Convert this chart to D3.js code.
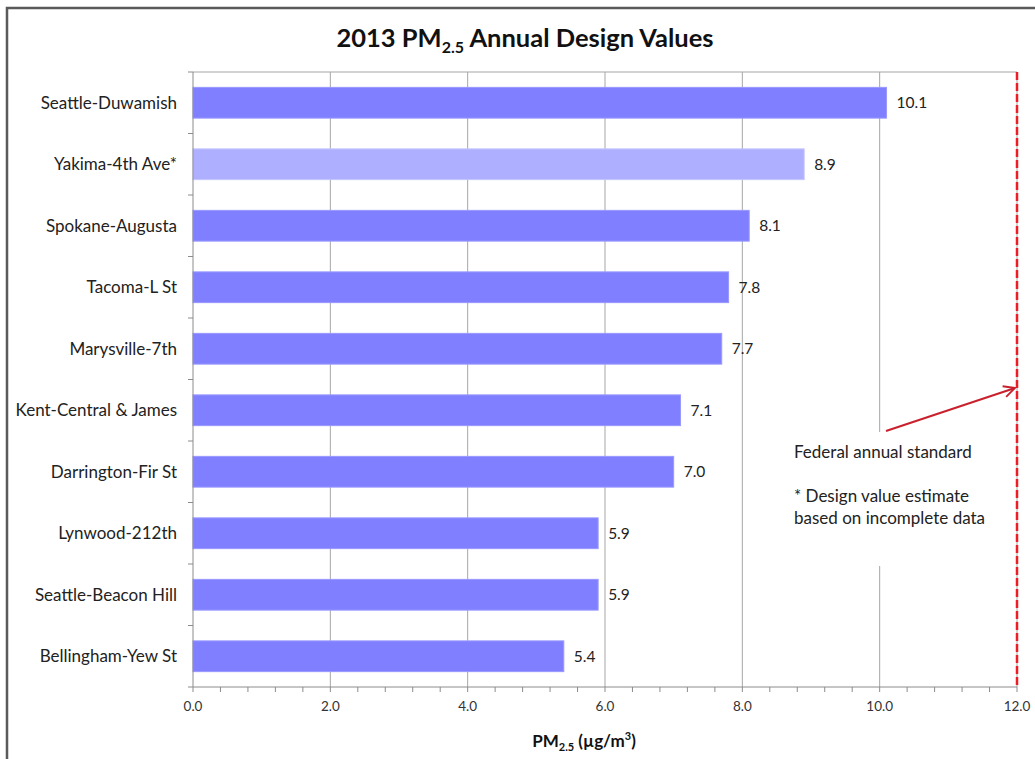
<!DOCTYPE html>
<html>
<head>
<meta charset="utf-8">
<script src="https://cdn.jsdelivr.net/npm/d3@7"></script>
<style>
  html, body { margin: 0; padding: 0; background: #fff; }
  svg { display: block; font-family: Lato, "Open Sans", sans-serif; }
</style>
</head>
<body>
<svg id="chart" width="1035" height="759"></svg>
<script>
// Monitoring sites, top to bottom
const sites = [
  "Seattle-Duwamish", "Yakima-4th Ave*", "Spokane-Augusta", "Tacoma-L St",
  "Marysville-7th", "Kent-Central & James", "Darrington-Fir St",
  "Lynwood-212th", "Seattle-Beacon Hill", "Bellingham-Yew St"
];
// Annual design values (µg/m³)
const designValues = [10.1, 8.9, 8.1, 7.8, 7.7, 7.1, 7.0, 5.9, 5.9, 5.4];
// Sites whose estimate rests on incomplete data
const incomplete = ["Yakima-4th Ave*"];
// Axis ticks
const majorTicks = [0, 2, 4, 6, 8, 10, 12];
const minorTicks = d3.range(0, 12.0001, 0.4);
// Federal annual standard
const standard = [12.0];

const svg = d3.select("#chart");
const margin = { left: 193, right: 1017, top: 72, bottom: 687 };

const x = d3.scaleLinear().domain([0, 12]).range([margin.left, margin.right]);
const y = d3.scaleBand().domain(sites).range([margin.top, margin.bottom]).paddingInner(0.5).paddingOuter(0.25);

// Outer chart frame
svg.append("rect")
  .attr("x", 7).attr("y", 8).attr("width", 1040).attr("height", 770)
  .attr("fill", "none").attr("stroke", "#5a5a5a").attr("stroke-width", 2.5);

// Title with subscript
const title = svg.append("text")
  .attr("x", 525).attr("y", 47).attr("text-anchor", "middle")
  .attr("font-size", 25.5).attr("font-weight", "bold").attr("fill", "#111");
title.append("tspan").text("2013 PM");
title.append("tspan").attr("font-size", 16).attr("dy", 6).text("2.5");
title.append("tspan").attr("dy", -6).text(" Annual Design Values");

// Plot area top edge
svg.append("line")
  .attr("x1", margin.left).attr("x2", margin.right)
  .attr("y1", margin.top).attr("y2", margin.top)
  .attr("stroke", "#a6a6a6").attr("stroke-width", 1);

// Vertical gridlines
svg.append("g").selectAll("line")
  .data(majorTicks.filter(d => d > 0))
  .join("line")
  .attr("x1", d => x(d)).attr("x2", d => x(d))
  .attr("y1", margin.top).attr("y2", margin.bottom)
  .attr("stroke", "#a6a6a6").attr("stroke-width", 1);

// Bars
svg.append("g").selectAll("rect")
  .data(sites.map((s, i) => ({ site: s, value: designValues[i] })))
  .join("rect")
  .attr("x", x(0))
  .attr("y", d => y(d.site))
  .attr("width", d => x(d.value) - x(0))
  .attr("height", y.bandwidth())
  .attr("fill", d => incomplete.includes(d.site) ? "#afafff" : "#7f7fff")
  .attr("stroke", d => incomplete.includes(d.site) ? "#c4c4ff" : "#9999ff")
  .attr("stroke-width", 1);

// Value labels
svg.append("g").selectAll("text")
  .data(sites.map((s, i) => ({ site: s, value: designValues[i] })))
  .join("text")
  .attr("x", d => x(d.value) + 10)
  .attr("y", d => y(d.site) + y.bandwidth() / 2)
  .attr("dy", "0.35em")
  .attr("font-size", 15.5).attr("fill", "#222")
  .text(d => d.value.toFixed(1));

// Category axis (left)
const yAxisG = svg.append("g");
yAxisG.append("line")
  .attr("x1", margin.left).attr("x2", margin.left)
  .attr("y1", margin.top).attr("y2", margin.bottom)
  .attr("stroke", "#8c8c8c");
yAxisG.selectAll("line.tick")
  .data(d3.range(sites.length + 1))
  .join("line").attr("class", "tick")
  .attr("x1", margin.left - 5).attr("x2", margin.left)
  .attr("y1", i => margin.top + i * y.step())
  .attr("y2", i => margin.top + i * y.step())
  .attr("stroke", "#8c8c8c");
yAxisG.selectAll("text")
  .data(sites)
  .join("text")
  .attr("x", margin.left - 16)
  .attr("y", d => y(d) + y.bandwidth() / 2)
  .attr("dy", "0.35em")
  .attr("text-anchor", "end")
  .attr("font-size", 17).attr("fill", "#222")
  .text(d => d);

// Value axis (bottom)
const xAxisG = svg.append("g");
xAxisG.append("line")
  .attr("x1", margin.left).attr("x2", margin.right)
  .attr("y1", margin.bottom).attr("y2", margin.bottom)
  .attr("stroke", "#8c8c8c");
xAxisG.selectAll("line.minor")
  .data(minorTicks)
  .join("line").attr("class", "minor")
  .attr("x1", d => x(d)).attr("x2", d => x(d))
  .attr("y1", margin.bottom).attr("y2", margin.bottom + 5)
  .attr("stroke", "#8c8c8c");
xAxisG.selectAll("text")
  .data(majorTicks)
  .join("text")
  .attr("x", d => x(d))
  .attr("y", margin.bottom + 24)
  .attr("text-anchor", "middle")
  .attr("font-size", 13.5).attr("fill", "#333")
  .text(d => d.toFixed(1));

// Axis title with subscript and superscript
const xTitle = svg.append("text")
  .attr("x", 584).attr("y", 747).attr("text-anchor", "middle")
  .attr("font-size", 17).attr("font-weight", "bold").attr("fill", "#111");
xTitle.append("tspan").text("PM");
xTitle.append("tspan").attr("font-size", 11).attr("dy", 4).text("2.5");
xTitle.append("tspan").attr("dy", -4).text(" (µg/m");
xTitle.append("tspan").attr("font-size", 11).attr("dy", -7).text("3");
xTitle.append("tspan").attr("dy", 7).text(")");

// Annotation box (white background hides the gridline behind it)
svg.append("rect")
  .attr("x", 786).attr("y", 432).attr("width", 210).attr("height", 134)
  .attr("fill", "#fff");
const notes = svg.append("g").attr("font-size", 17).attr("fill", "#222");
notes.append("text").attr("x", 794).attr("y", 458).text("Federal annual standard");
notes.append("text").attr("x", 794).attr("y", 502).text("* Design value estimate");
notes.append("text").attr("x", 794).attr("y", 524).text("based on incomplete data");

// Federal standard line
svg.append("g").selectAll("line")
  .data(standard)
  .join("line")
  .attr("x1", d => x(d)).attr("x2", d => x(d))
  .attr("y1", margin.top).attr("y2", margin.bottom)
  .attr("stroke", "#ee1c25").attr("stroke-width", 2.5)
  .attr("stroke-dasharray", "8,3");

// Arrow pointing to the standard line
svg.append("defs").append("marker")
  .attr("id", "arrowHead")
  .attr("viewBox", "0 0 10 10").attr("refX", 9).attr("refY", 5)
  .attr("markerWidth", 7).attr("markerHeight", 7)
  .attr("markerUnits", "strokeWidth")
  .attr("orient", "auto")
  .append("path")
  .attr("d", "M1,1 L9,5 L1,9")
  .attr("fill", "none").attr("stroke", "#c8202c").attr("stroke-width", 1.3);
svg.append("line")
  .attr("x1", 886).attr("y1", 431)
  .attr("x2", x(standard[0]) - 2).attr("y2", 388)
  .attr("stroke", "#c8202c").attr("stroke-width", 2)
  .attr("marker-end", "url(#arrowHead)");
</script>
</body>
</html>
